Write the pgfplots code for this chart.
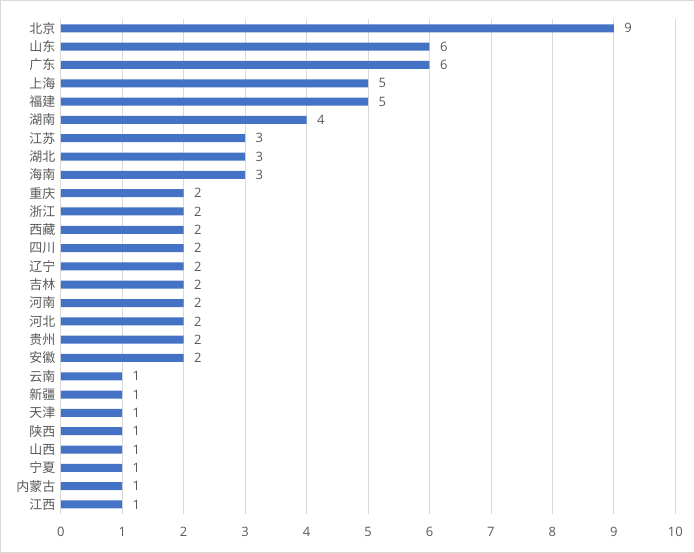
\documentclass[border=0pt]{standalone}
\usepackage{pgfplots}
\pgfplotsset{compat=1.18}
\usepackage{fontspec}
\setmainfont{Open Sans}
\newfontfamily\cjk{Noto Sans CJK SC}
\definecolor{barc}{HTML}{4472C4}
\definecolor{txt}{HTML}{595959}
\definecolor{gridc}{HTML}{D9D9D9}
\begin{document}
\begin{tikzpicture}[x=1bp,y=1bp]
\draw[gridc] (0.5,0.5) rectangle (693.5,552.5);
\begin{axis}[
  at={(61bp,39.5bp)}, anchor=south west,
  scale only axis, width=614bp, height=494bp,
  xbar, bar width=8bp,
  xmin=0, xmax=10, ymin=-0.5, ymax=26.5, y dir=reverse,
  xtick={0,...,10}, ytick={0,...,26},
  yticklabels={北京,山东,广东,上海,福建,湖南,江苏,湖北,海南,重庆,浙江,西藏,四川,辽宁,吉林,河南,河北,贵州,安徽,云南,新疆,天津,陕西,山西,宁夏,内蒙古,江西},
  xmajorgrids, grid style={gridc, line width=0.75bp},
  axis line style={draw=none}, major tick length=0pt,
  /pgf/number format/assume math mode=true,
  tick label style={text=txt, font=\fontsize{13}{15}\selectfont},
  yticklabel style={font=\cjk\fontsize{13}{15}\selectfont, xshift=-2bp},
  xticklabel style={yshift=-10bp},
  nodes near coords,
  every node near coord/.append style={text=txt, font=\fontsize{13}{15}\selectfont, xshift=7bp},
]
\addplot[draw=none, fill=barc] coordinates {
(9,0) (6,1) (6,2) (5,3) (5,4) (4,5) (3,6) (3,7) (3,8)
(2,9) (2,10) (2,11) (2,12) (2,13) (2,14) (2,15) (2,16) (2,17) (2,18)
(1,19) (1,20) (1,21) (1,22) (1,23) (1,24) (1,25) (1,26)};
\end{axis}
\end{tikzpicture}
\end{document}
